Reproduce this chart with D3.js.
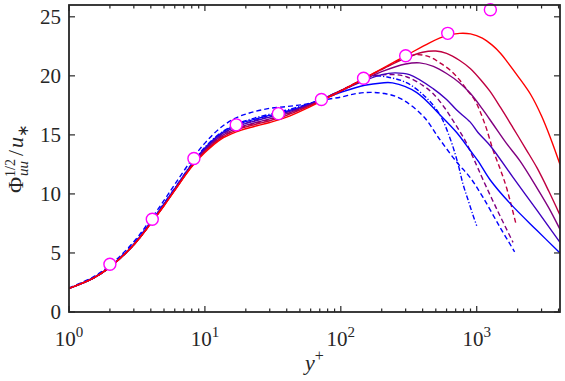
<!DOCTYPE html>
<html>
<head>
<meta charset="utf-8">
<script src="https://cdn.jsdelivr.net/npm/d3@7"></script>
<style>
body { margin: 0; background: #fff; }
svg text { font-family: "Liberation Serif", "Times New Roman", serif; fill: #262626; }
</style>
</head>
<body>
<div id="chart"></div>
<script>
// near-wall grid shared by every profile
var yp_inner = [1, 1.5, 2, 3, 4, 5, 6, 8, 10, 13, 17, 22, 30, 40, 55, 70, 100];

var red_inner = [2.0, 2.85, 3.8, 5.7, 7.5, 9.0, 10.3, 12.3, 13.5, 14.6, 15.25, 15.65, 16.05, 16.5, 17.2, 17.8, 18.7];
var crimson_inner = [2.0, 2.85, 3.8, 5.7, 7.5, 9.0, 10.3, 12.35, 13.6, 14.7, 15.4, 15.8, 16.2, 16.65, 17.3, 17.85, 18.75];
var purple_inner = [2.0, 2.85, 3.8, 5.7, 7.5, 9.05, 10.35, 12.4, 13.7, 14.85, 15.55, 15.95, 16.35, 16.8, 17.4, 17.9, 18.75];
var violet_inner = [2.0, 2.85, 3.8, 5.7, 7.55, 9.1, 10.4, 12.45, 13.8, 15.0, 15.7, 16.1, 16.5, 16.9, 17.45, 17.95, 18.75];
var blue_inner = [2.0, 2.85, 3.8, 5.75, 7.6, 9.15, 10.45, 12.5, 13.9, 15.1, 15.85, 16.25, 16.65, 17.0, 17.5, 17.95, 18.6];
var bluedash_inner = [2.05, 2.95, 3.95, 5.95, 7.85, 9.45, 10.8, 12.9, 14.3, 15.6, 16.45, 16.9, 17.25, 17.4, 17.6, 17.9, 18.2];
var dashdot_inner = [2.0, 2.9, 3.85, 5.8, 7.65, 9.2, 10.5, 12.55, 13.95, 15.15, 15.9, 16.35, 16.75, 17.1, 17.55, 17.95, 18.65];
var purpledash_inner = [2.0, 2.85, 3.8, 5.7, 7.55, 9.1, 10.4, 12.45, 13.75, 14.95, 15.7, 16.15, 16.55, 16.95, 17.45, 17.95, 18.75];
var crimsondash_inner = [2.0, 2.85, 3.8, 5.7, 7.5, 9.05, 10.35, 12.35, 13.65, 14.75, 15.45, 15.9, 16.3, 16.75, 17.35, 17.9, 18.75];

// outer parts, each profile has its own y+ points
var red_x = [150, 200, 300, 450, 600, 750, 900, 1100, 1300, 1500, 1700, 2000, 2500, 3000, 3500, 4100];
var red_y = [19.8, 20.6, 21.7, 22.8, 23.4, 23.6, 23.55, 23.2, 22.6, 21.9, 21.1, 20.0, 18.4, 16.6, 14.7, 12.5];
var crimson_x = [150, 200, 300, 400, 500, 600, 750, 900, 1100, 1250, 1500, 1850, 2300, 2780, 3400, 4100];
var crimson_y = [19.8, 20.55, 21.5, 22.0, 22.1, 21.9, 21.3, 20.6, 19.5, 18.7, 17.3, 15.6, 13.8, 12.2, 10.2, 8.2];
var purple_x = [150, 200, 300, 380, 480, 600, 750, 900, 1100, 1320, 1650, 2080, 2780, 3400, 4100];
var purple_y = [19.7, 20.35, 21.0, 21.1, 20.8, 20.2, 19.4, 18.5, 17.2, 15.9, 14.3, 12.8, 10.5, 8.8, 7.0];
var violet_x = [150, 200, 250, 320, 480, 600, 712, 893, 1022, 1253, 1850, 2780, 4100];
var violet_y = [19.6, 20.1, 20.25, 20.1, 18.9, 18.0, 17.1, 16.1, 15.2, 14.1, 11.4, 8.6, 5.9];
var blue_x = [150, 200, 240, 360, 536, 712, 893, 1022, 1253, 1758, 2780, 4100];
var blue_y = [19.2, 19.4, 19.4, 18.6, 16.7, 15.2, 13.7, 12.8, 11.2, 9.2, 6.9, 5.0];

var bluedash_x = [130, 165, 210, 273, 403, 536, 712, 893, 1113, 1480, 1900];
var bluedash_y = [18.5, 18.6, 18.5, 18.1, 16.6, 14.6, 12.7, 11.4, 9.7, 7.2, 5.1];
var dashdot_x = [150, 175, 220, 307, 430, 536, 637, 726, 794, 863, 939, 1000];
var dashdot_y = [19.8, 20.0, 19.9, 19.4, 18.1, 16.7, 14.7, 12.6, 10.8, 9.5, 8.2, 7.3];
var purpledash_x = [150, 173, 250, 307, 400, 477, 580, 670, 760, 849, 1000, 1113, 1420, 1850];
var purpledash_y = [19.75, 20.0, 20.1, 19.9, 19.2, 18.5, 17.3, 16.2, 15.2, 14.2, 12.4, 11.2, 8.6, 5.9];
var crimsondash_x = [150, 200, 300, 363, 450, 536, 650, 754, 850, 972, 1150, 1320, 1500, 1660, 1940];
var crimsondash_y = [19.8, 20.55, 21.55, 21.8, 21.6, 21.1, 20.4, 19.6, 18.8, 17.9, 15.9, 13.7, 12.0, 10.5, 7.5];

// open circles
var circle_yp = [2, 4.1, 8.3, 17, 34.7, 72, 147, 300, 612, 1260];
var circle_val = [4.05, 7.85, 13.0, 15.85, 16.8, 18.0, 19.8, 21.7, 23.6, 25.6];

var x_ticks = [1, 10, 100, 1000];
var y_ticks = [0, 5, 10, 15, 20, 25];

var width = 565,
	height = 381,
	margin = {top: 5, right: 5, bottom: 69, left: 69},
	x0 = margin.left, x1 = width - margin.right,
	y0 = height - margin.bottom, y1 = margin.top;

var axis_col = '#262626';

var svg = d3.select('#chart').append('svg')
	.attr('width', width)
	.attr('height', height);

var x = d3.scaleLog().domain([1, 4100]).range([x0, x1]);
var y = d3.scaleLinear().domain([0, 26]).range([y0, y1]);

svg.append('clipPath').attr('id', 'plotclip')
	.append('rect')
	.attr('x', x0).attr('y', y1)
	.attr('width', x1 - x0).attr('height', y0 - y1);

function make_series(inner, ox, oy) {
	var pts = yp_inner.map(function(d, i) { return [d, inner[i]]; });
	ox.forEach(function(d, i) { pts.push([d, oy[i]]); });
	return pts;
}

var blue2red = d3.interpolateRgb('#0000ff', '#ff0000');

// dashed ones first, solid on top
var series = [
	{pts: make_series(bluedash_inner, bluedash_x, bluedash_y), col: blue2red(0), dash: '5,3'},
	{pts: make_series(dashdot_inner, dashdot_x, dashdot_y), col: blue2red(0), dash: '5,2,1.2,2'},
	{pts: make_series(purpledash_inner, purpledash_x, purpledash_y), col: blue2red(0.5), dash: '5,3'},
	{pts: make_series(crimsondash_inner, crimsondash_x, crimsondash_y), col: blue2red(0.75), dash: '5,3'},
	{pts: make_series(blue_inner, blue_x, blue_y), col: blue2red(0), dash: null},
	{pts: make_series(violet_inner, violet_x, violet_y), col: blue2red(0.25), dash: null},
	{pts: make_series(purple_inner, purple_x, purple_y), col: blue2red(0.5), dash: null},
	{pts: make_series(crimson_inner, crimson_x, crimson_y), col: blue2red(0.75), dash: null},
	{pts: make_series(red_inner, red_x, red_y), col: blue2red(1), dash: null}
];

var line = d3.line()
	.x(function(d) { return x(d[0]); })
	.y(function(d) { return y(d[1]); })
	.curve(d3.curveCatmullRom.alpha(0.5));

var lines_g = svg.append('g').attr('clip-path', 'url(#plotclip)');
lines_g.selectAll('path')
	.data(series)
	.enter().append('path')
	.attr('d', function(d) { return line(d.pts); })
	.attr('fill', 'none')
	.attr('stroke', function(d) { return d.col; })
	.attr('stroke-width', 1.4)
	.attr('stroke-dasharray', function(d) { return d.dash; });

svg.append('g').selectAll('circle')
	.data(circle_yp)
	.enter().append('circle')
	.attr('cx', function(d) { return x(d); })
	.attr('cy', function(d, i) { return y(circle_val[i]); })
	.attr('r', 6)
	.attr('fill', '#fff')
	.attr('stroke', '#ff00ff')
	.attr('stroke-width', 1.4);

// axes box and inward ticks
var ax = svg.append('g').attr('stroke', axis_col).attr('stroke-width', 1.2);

var minor = [];
[1, 10, 100, 1000].forEach(function(dec) {
	for (var k = 2; k <= 9; k++) {
		if (dec * k <= 4100) minor.push(dec * k);
	}
});

x_ticks.forEach(function(t) {
	ax.append('line').attr('x1', x(t)).attr('x2', x(t)).attr('y1', y0).attr('y2', y0 - 6);
	ax.append('line').attr('x1', x(t)).attr('x2', x(t)).attr('y1', y1).attr('y2', y1 + 6);
});
minor.forEach(function(t) {
	ax.append('line').attr('x1', x(t)).attr('x2', x(t)).attr('y1', y0).attr('y2', y0 - 3.5);
	ax.append('line').attr('x1', x(t)).attr('x2', x(t)).attr('y1', y1).attr('y2', y1 + 3.5);
});
y_ticks.forEach(function(t) {
	ax.append('line').attr('x1', x0).attr('x2', x0 + 6).attr('y1', y(t)).attr('y2', y(t));
	ax.append('line').attr('x1', x1).attr('x2', x1 - 6).attr('y1', y(t)).attr('y2', y(t));
});

svg.append('rect')
	.attr('x', x0).attr('y', y1)
	.attr('width', x1 - x0).attr('height', y0 - y1)
	.attr('fill', 'none')
	.attr('stroke', axis_col)
	.attr('stroke-width', 1.8);

// tick labels
svg.append('g').selectAll('text')
	.data(y_ticks)
	.enter().append('text')
	.attr('x', x0 - 8)
	.attr('y', function(d) { return y(d) + 7; })
	.attr('text-anchor', 'end')
	.style('font-size', '21px')
	.text(function(d) { return d; });

var xl = svg.append('g').selectAll('text')
	.data(x_ticks)
	.enter().append('text')
	.attr('x', function(d) { return x(d); })
	.attr('y', 346)
	.attr('text-anchor', 'middle')
	.style('font-size', '21px');
xl.append('tspan').text('10');
xl.append('tspan').attr('dy', -9).style('font-size', '15px')
	.text(function(d) { return Math.round(Math.log10(d)); });

// x label
var xt = svg.append('text')
	.attr('x', (x0 + x1) / 2)
	.attr('y', 370)
	.attr('text-anchor', 'middle')
	.style('font-size', '22px');
xt.append('tspan').style('font-style', 'italic').text('y');
xt.append('tspan').attr('dy', -9).style('font-size', '16px').text('+');

// y label, pieces placed by hand inside a rotated group
var yl = svg.append('g').attr('transform', 'translate(23,' + ((y0 + y1) / 2) + ') rotate(-90)');
function piece(txt, size, italic, dy) {
	var t = yl.append('text')
		.attr('y', dy)
		.style('font-size', size + 'px')
		.style('font-style', italic ? 'italic' : 'normal')
		.text(txt);
	return t;
}
var p_phi = piece('\u03A6', 22, false, 0);
var p_sup = piece('1/2', 14, false, -8);
var p_sub = piece('uu', 15, true, 5);
var p_sl = piece('/', 22, false, 0);
var p_u = piece('u', 22, true, 0);
var p_st = piece('\u2217', 15, false, 5);

var pos = 0;
p_phi.attr('x', pos); pos += p_phi.node().getComputedTextLength();
p_sup.attr('x', pos); p_sub.attr('x', pos + 1);
pos += Math.max(p_sup.node().getComputedTextLength(), p_sub.node().getComputedTextLength() + 1) + 3;
p_sl.attr('x', pos); pos += p_sl.node().getComputedTextLength() + 2;
p_u.attr('x', pos); pos += p_u.node().getComputedTextLength();
p_st.attr('x', pos); pos += p_st.node().getComputedTextLength();
yl.selectAll('text').attr('transform', 'translate(' + (-pos / 2) + ',0)');
</script>
</body>
</html>
